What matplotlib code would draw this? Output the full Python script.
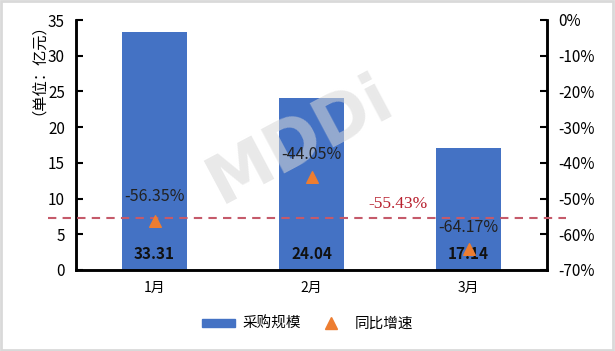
import matplotlib
matplotlib.use("Agg")
import matplotlib.pyplot as plt
from matplotlib.patches import Rectangle
from matplotlib.lines import Line2D
from matplotlib.patches import Patch

plt.rcParams["font.family"] = ["Noto Sans CJK SC", "DejaVu Sans"]

months = ["1月", "2月", "3月"]
scale = [33.31, 24.04, 17.14]          # 采购规模（亿元）
growth = [-56.35, -44.05, -64.17]      # 同比增速（%）
avg_growth = -55.43

BAR_COLOR = "#4472C4"
TRI_COLOR = "#ED7D31"

fig = plt.figure(figsize=(6.15, 3.51), dpi=100)
ax = fig.add_axes([76 / 615, 1 - 270 / 351, 471 / 615, 250 / 351])
ax2 = ax.twinx()

x = range(len(months))
ax.bar(x, scale, width=0.42, color=BAR_COLOR, zorder=2)
ax.set_xlim(-0.5, 2.5)
ax.set_ylim(0, 35)
ax.set_yticks(range(0, 36, 5))
ax.set_xticks(list(x))
ax.set_xticklabels(months, fontsize=10)
ax.tick_params(axis="x", length=0, pad=8)
ax.tick_params(axis="y", direction="in", length=5, width=1.5, labelsize=11, pad=8)

for i, v in enumerate(scale):
    ax.text(i, 2.2, f"{v:.2f}", ha="center", va="center", fontsize=11,
            fontweight="bold", color="#111111", zorder=4)

ax2.scatter(x, growth, marker="^", s=70, color=TRI_COLOR, zorder=5)
ax2.set_ylim(-70, 0)
ax2.set_yticks(range(-70, 1, 10))
ax2.set_yticklabels([f"{t}%" for t in range(-70, 1, 10)])
ax2.tick_params(axis="y", direction="in", length=5, width=1.5, labelsize=11, pad=8)

offsets = [7.0, 6.5, 6.0]
for i, g in enumerate(growth):
    ax2.text(i, g + offsets[i], f"{g:.2f}%", ha="center", va="center",
             fontsize=11.5, color="#222222", zorder=6)

# average growth reference line, extends beyond the plot area
ax2.plot([-0.68, 2.62], [avg_growth, avg_growth], ls=(0, (4, 3)), lw=1.5,
         color="#C55A6A", clip_on=False, zorder=3)
ax2.text(1.55, avg_growth + 4.0, f"{avg_growth:.2f}%", ha="center", va="center",
         fontsize=12.5, color="#B8202E", family="Liberation Serif")

# watermark: above the bars, below the labels
ax2.text(300 / 615, 1 - 140 / 351, "MDDi", transform=fig.transFigure,
         rotation=28, ha="center", va="center", fontsize=48, fontweight="bold",
         color="#d8d8d8", alpha=0.55, family="DejaVu Sans", zorder=1)

for a in (ax, ax2):
    a.spines["top"].set_visible(False)
    for s in ("left", "right", "bottom"):
        a.spines[s].set_linewidth(1.8)
        a.spines[s].set_color("black")

fig.text(30 / 615, 1 - 62 / 351, "（单位：亿元）", rotation=90, ha="center",
         va="center", fontsize=11)

handles = [Patch(color=BAR_COLOR, label="采购规模"),
           Line2D([], [], marker="^", ls="", color=TRI_COLOR, markersize=8, label="同比增速")]
fig.legend(handles=handles, loc="center", bbox_to_anchor=(0.5, 1 - 324 / 351),
           ncol=2, frameon=False, fontsize=10.5, handlelength=2.3, handleheight=0.5,
           columnspacing=0.9, handletextpad=0.5)

fig.patches.append(Rectangle((0.002, 0.003), 0.995, 0.994, transform=fig.transFigure,
                             fill=False, edgecolor="#d9d9d9", lw=2))

fig.savefig("out.png", dpi=100)
